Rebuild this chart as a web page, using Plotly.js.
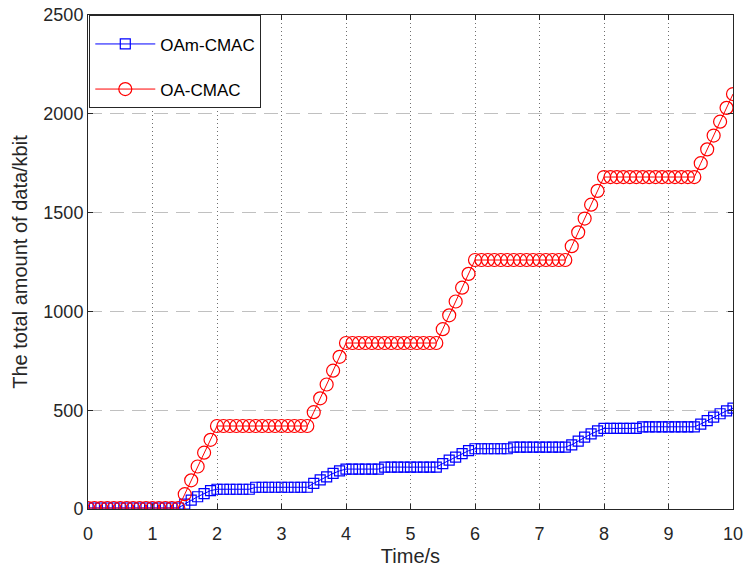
<!DOCTYPE html>
<html>
<head>
<meta charset="utf-8">
<script src="https://cdn.plot.ly/plotly-3.0.1.min.js"></script>
<style>html,body{margin:0;padding:0;background:#fff;}#chart{width:744px;height:568px;}</style>
</head>
<body>
<div id="chart"></div>
<script>
const timeS = [0,0.1,0.2,0.3,0.4,0.5,0.6,0.7,0.8,0.9,1,1.1,1.2,1.3,1.4,1.5,1.6,1.7,1.8,1.9,2,2.1,2.2,2.3,2.4,2.5,2.6,2.7,2.8,2.9,3,3.1,3.2,3.3,3.4,3.5,3.6,3.7,3.8,3.9,4,4.1,4.2,4.3,4.4,4.5,4.6,4.7,4.8,4.9,5,5.1,5.2,5.3,5.4,5.5,5.6,5.7,5.8,5.9,6,6.1,6.2,6.3,6.4,6.5,6.6,6.7,6.8,6.9,7,7.1,7.2,7.3,7.4,7.5,7.6,7.7,7.8,7.9,8,8.1,8.2,8.3,8.4,8.5,8.6,8.7,8.8,8.9,9,9.1,9.2,9.3,9.4,9.5,9.6,9.7,9.8,9.9,10];

const oamCmac = [5,5,5,5,5,5,5,5,5,5,5,5,5,5,5,
  25,45,62,78,93,100,
  100,100,100,100,100,
  110,110,110,110,110,110,110,110,110,
  130,147,163,180,193,202,
  202,202,202,202,202,
  212,212,212,212,212,212,212,212,212,
  230,247,263,280,295,305,
  305,305,305,305,305,
  313,313,313,313,313,313,313,313,313,
  325,344,364,380,395,408,
  408,408,408,408,408,
  416,416,416,416,416,416,416,416,416,
  430,447,465,482,497,510];

const oaCmac = [5,5,5,5,5,5,5,5,5,5,5,5,5,5,5,
  75,145,215,285,350,420,
  420,420,420,420,420,420,420,420,420,420,420,420,420,420,
  490,560,630,700,770,840,
  840,840,840,840,840,840,840,840,840,840,840,840,840,840,
  910,980,1050,1120,1190,1260,
  1260,1260,1260,1260,1260,1260,1260,1260,1260,1260,1260,1260,1260,1260,
  1330,1400,1470,1540,1610,1680,
  1680,1680,1680,1680,1680,1680,1680,1680,1680,1680,1680,1680,1680,1680,
  1750,1820,1890,1960,2030,2100];

const seriesNames = ['OAm-CMAC', 'OA-CMAC'];
const xTicks = [0,1,2,3,4,5,6,7,8,9,10];
const yTicks = [0,500,1000,1500,2000,2500];

const FONT = 'Liberation Sans, Arial, sans-serif';

const traces = [
  {x: timeS, y: oamCmac, name: seriesNames[0], type: 'scatter', mode: 'lines+markers',
   legendgroup: 'a',
   line: {color: '#0000ff', width: 1},
   marker: {symbol: 'square-open', size: 10, color: '#0000ff', line: {width: 1.2, color: '#0000ff'}}},
  {x: timeS, y: oaCmac, name: seriesNames[1], type: 'scatter', mode: 'lines+markers',
   legendgroup: 'b',
   line: {color: '#ff0000', width: 1},
   marker: {symbol: 'circle-open', size: 13, color: '#ff0000', line: {width: 1.2, color: '#ff0000'}}}
];

const axisCommon = {
  showline: true, linecolor: '#262626', linewidth: 1, mirror: 'ticks',
  ticks: 'inside', ticklen: 5, tickcolor: '#262626', tickwidth: 1,
  zeroline: false, ticklabeloverflow: 'allow',
  tickfont: {family: FONT, size: 18, color: '#262626'}
};

const layout = {
  width: 744, height: 568,
  margin: {l: 88, r: 11, t: 15, b: 59},
  paper_bgcolor: '#ffffff', plot_bgcolor: '#ffffff',
  font: {family: FONT, color: '#262626'},
  showlegend: true,
  legend: {x: 0.002, y: 1, xanchor: 'left', yanchor: 'top',
    bgcolor: '#ffffff', bordercolor: '#262626', borderwidth: 1,
    font: {family: FONT, size: 17, color: '#000000'}, traceorder: 'grouped', tracegroupgap: 20,
    itemwidth: 60,
    title: {text: '\u00a0', font: {family: FONT, size: 8}}},
  xaxis: Object.assign({}, axisCommon, {
    range: [0, 10], tickvals: xTicks, ticktext: xTicks.map(String),
    ticklabelstandoff: 8,
    showgrid: true, gridcolor: '#6e6e6e', griddash: '1px,3px', gridwidth: 1,
    title: {text: 'Time/s', font: {family: FONT, size: 20, color: '#262626'}, standoff: 6}
  }),
  yaxis: Object.assign({}, axisCommon, {
    range: [0, 2500], tickvals: yTicks, ticktext: yTicks.map(String),
    showgrid: true, gridcolor: '#c0c0c0', griddash: '14px,8px', gridwidth: 1,
    title: {text: 'The total amount of data/kbit', font: {family: FONT, size: 20, color: '#262626'}, standoff: 10}
  })
};

Plotly.newPlot('chart', traces, layout, {displayModeBar: false, staticPlot: true});
</script>
</body>
</html>
